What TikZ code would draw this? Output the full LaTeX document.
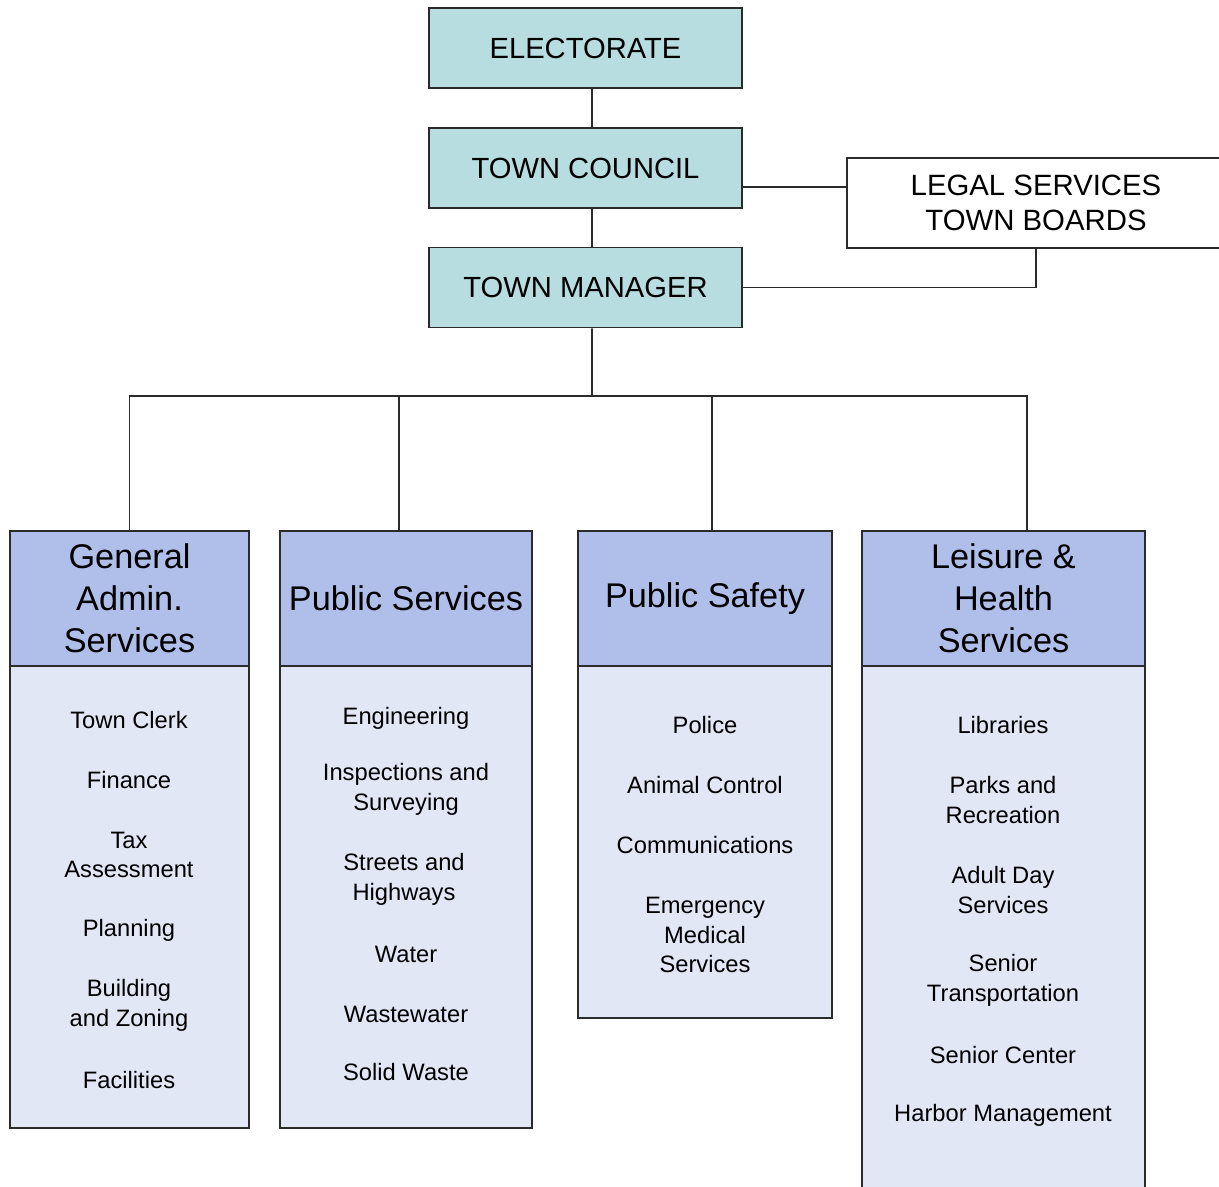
\documentclass[tikz,border=0pt]{standalone}
\usepackage{fontspec}
\setmainfont{Liberation Sans}
\usetikzlibrary{positioning}
\definecolor{TownCyan}{HTML}{B7DDE0}
\definecolor{DeptBlue}{HTML}{B0BEEA}
\definecolor{DeptPale}{HTML}{E2E7F6}
\definecolor{LineGray}{HTML}{2B2B2B}

\begin{document}
\begin{tikzpicture}[x=0.02cm, y=-0.02cm,
    topbox/.style={draw=LineGray, line width=1.1pt, fill=TownCyan, minimum width=6.26cm, minimum height=1.6cm, font=\fontsize{16.6}{20}\selectfont},
    headbox/.style={draw=LineGray, line width=1.1pt, fill=DeptBlue, minimum height=2.7cm, align=center, inner sep=0pt, outer sep=0pt, font=\fontsize{19.5}{24}\selectfont},
    bodybox/.style={draw=LineGray, line width=1.1pt, fill=DeptPale, inner sep=0pt, outer sep=0pt},
    item/.style={align=center, inner sep=1pt, font=\fontsize{13.5}{17}\selectfont},
    link/.style={line width=1.1pt, LineGray}]
    \useasboundingbox (0,0) rectangle (1219,1186);

    % Top of the chart
    \node[topbox] (electorate) at (585.5,48) {ELECTORATE};
    \node[topbox] (council) at (585.5,168) {TOWN COUNCIL};
    \node[topbox] (manager) at (585.5,287.5) {TOWN MANAGER};

    % Legal services
    \node[draw=LineGray, line width=1.1pt, fill=white, minimum width=7.56cm, minimum height=1.8cm, align=center, font=\fontsize{16.7}{20}\selectfont] (legal) at (1036,203) {LEGAL SERVICES\\TOWN BOARDS};

    % Department headers
    \node[headbox, minimum width=4.78cm] (genhead) at (129.5,598.5) {General\\Admin.\\Services};
    \node[headbox, minimum width=5.04cm] (pubhead) at (406,598.5) {Public Services};
    \node[headbox, minimum width=5.08cm] (safehead) at (705,598.5) {Public Safety};
    \node[headbox, minimum width=5.66cm] (leishead) at (1003.5,598.5) {Leisure \&\\Health\\Services};

    % Department bodies
    \node[bodybox, minimum width=4.78cm, minimum height=9.24cm, below=0pt of genhead] (genbody) {};
    \node[bodybox, minimum width=5.04cm, minimum height=9.24cm, below=0pt of pubhead] (pubbody) {};
    \node[bodybox, minimum width=5.08cm, minimum height=7.04cm, below=0pt of safehead] (safebody) {};
    \node[bodybox, minimum width=5.66cm, minimum height=10.68cm, below=0pt of leishead] (leisbody) {};

    % General Admin. Services
    \node[item] (clerk) at (129,720) {Town Clerk};
    \node[item] (finance) at (129,780) {Finance};
    \node[item] (tax) at (129,855) {Tax\\Assessment};
    \node[item] (planning) at (129,930) {Planning};
    \node[item] (building) at (129,1005) {Building\\and Zoning};
    \node[item] (facilities) at (129,1080) {Facilities};

    % Public Services
    \node[item] (engineering) at (406,718) {Engineering};
    \node[item] (inspections) at (406,789) {Inspections and\\Surveying};
    \node[item] (streets) at (404,879) {Streets and\\Highways};
    \node[item] (water) at (406,954) {Water};
    \node[item] (wastewater) at (406,1014) {Wastewater};
    \node[item] (solidwaste) at (406,1072) {Solid Waste};

    % Public Safety
    \node[item] (police) at (705,725) {Police};
    \node[item] (animal) at (705,785) {Animal Control};
    \node[item] (comms) at (705,845) {Communications};
    \node[item] (emergency) at (705,935) {Emergency\\Medical\\Services};

    % Leisure & Health Services
    \node[item] (libraries) at (1003,725) {Libraries};
    \node[item] (parks) at (1003,800) {Parks and\\Recreation};
    \node[item] (adultday) at (1003,890) {Adult Day\\Services};
    \node[item] (senior) at (1003,980) {Senior\\Transportation};
    \node[item] (seniorcenter) at (1003,1055) {Senior Center};
    \node[item] (harbor) at (1003,1115) {Harbor Management};

    % Connectors
    \coordinate (bus) at (592,396);
    \coordinate (legalrow) at (0,187);
    \draw[link] ([xshift=0.13cm]electorate.south) -- ([xshift=0.13cm]council.north);
    \draw[link] ([xshift=0.13cm]council.south) -- ([xshift=0.13cm]manager.north);
    \draw[link] (council.east |- legalrow) -- (legal.west |- legalrow);
    \draw[link] (legal.south) |- (manager.east);
    \draw[link] ([xshift=0.13cm]manager.south) -- (bus);
    \draw[link] (bus) -| (genhead.north);
    \draw[link] (bus) -| ([xshift=-0.14cm]pubhead.north);
    \draw[link] (bus) -| ([xshift=0.14cm]safehead.north);
    \draw[link] (bus) -| ([xshift=0.47cm]leishead.north);
\end{tikzpicture}
\end{document}
